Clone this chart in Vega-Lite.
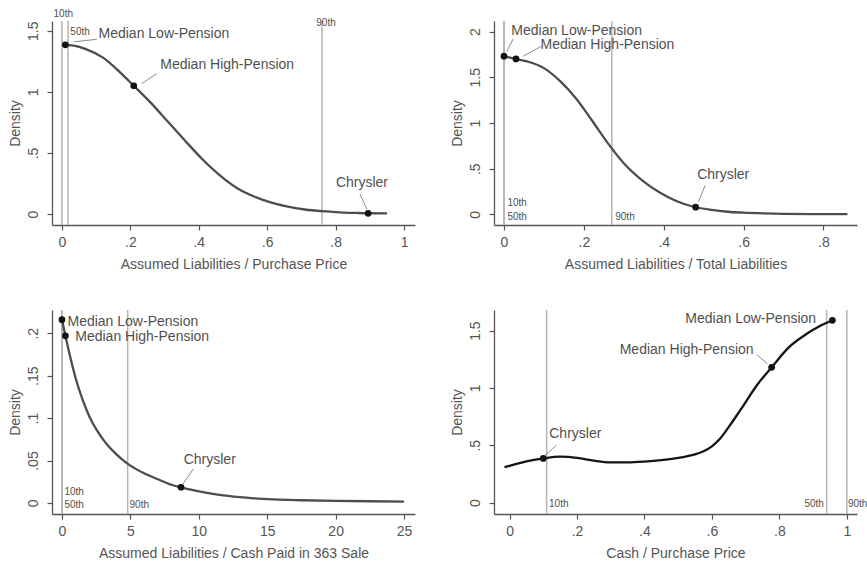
{
  "$schema": "https://vega.github.io/schema/vega-lite/v6.json",
  "background": "white",
  "padding": {"left": 8, "top": 8, "right": 0, "bottom": 0},
  "columns": 2,
  "spacing": {"row": 85, "column": 79},
  "bounds": "flush",
  "datasets": {
    "c1": [{"x":0,"y":1.385},{"x":0.03,"y":1.38},{"x":0.07,"y":1.35},{"x":0.12,"y":1.28},{"x":0.17,"y":1.16},{"x":0.21,"y":1.05},{"x":0.26,"y":0.91},{"x":0.31,"y":0.755},{"x":0.36,"y":0.6},{"x":0.41,"y":0.45},{"x":0.46,"y":0.32},{"x":0.51,"y":0.215},{"x":0.56,"y":0.145},{"x":0.61,"y":0.095},{"x":0.66,"y":0.06},{"x":0.71,"y":0.037},{"x":0.76,"y":0.023},{"x":0.81,"y":0.014},{"x":0.86,"y":0.009},{"x":0.9,"y":0.006},{"x":0.95,"y":0.005}],
    "m1": [{"x":0.01,"y":1.385},{"x":0.21,"y":1.05},{"x":0.895,"y":0.006}],
    "t1": [{"x":0.298,"y":1.47,"label":"Median Low-Pension"},{"x":0.483,"y":1.22,"label":"Median High-Pension"},{"x":0.877,"y":0.254,"label":"Chrysler"}],
    "a1": [{"x":0.102,"y":1.43,"x2":0.035,"y2":1.41},{"x":0.277,"y":1.15,"x2":0.233,"y2":1.066},{"x":0.871,"y":0.164,"x2":0.891,"y2":0.04}],
    "r1": [{"x":0,"pct":"10th"},{"x":0.018,"pct":"50th"},{"x":0.76,"pct":"90th"}],
    "p1": [{"x":0.004,"y":1.64,"label":"10th"},{"x":0.053,"y":1.49,"label":"50th"},{"x":0.772,"y":1.566,"label":"90th"}],

    "c2": [{"x":0,"y":1.73},{"x":0.03,"y":1.70},{"x":0.06,"y":1.67},{"x":0.1,"y":1.6},{"x":0.14,"y":1.46},{"x":0.18,"y":1.27},{"x":0.22,"y":1.03},{"x":0.26,"y":0.78},{"x":0.3,"y":0.56},{"x":0.35,"y":0.36},{"x":0.39,"y":0.24},{"x":0.43,"y":0.15},{"x":0.47,"y":0.09},{"x":0.52,"y":0.05},{"x":0.56,"y":0.03},{"x":0.6,"y":0.02},{"x":0.65,"y":0.012},{"x":0.7,"y":0.007},{"x":0.78,"y":0.004},{"x":0.86,"y":0.003}],
    "m2": [{"x":0,"y":1.73},{"x":0.03,"y":1.70},{"x":0.48,"y":0.08}],
    "t2": [{"x":0.182,"y":2.01,"label":"Median Low-Pension"},{"x":0.259,"y":1.85,"label":"Median High-Pension"},{"x":0.549,"y":0.43,"label":"Chrysler"}],
    "a2": [{"x":0.023,"y":1.92,"x2":0.007,"y2":1.78},{"x":0.094,"y":1.84,"x2":0.048,"y2":1.73},{"x":0.504,"y":0.32,"x2":0.487,"y2":0.14}],
    "r2": [{"x":0,"pct":"10th"},{"x":0,"pct":"50th"},{"x":0.27,"pct":"90th"}],
    "p2": [{"x":0.033,"y":0.13,"label":"10th"},{"x":0.033,"y":-0.033,"label":"50th"},{"x":0.303,"y":-0.025,"label":"90th"}],

    "c3": [{"x":0,"y":0.216},{"x":0.25,"y":0.197},{"x":0.5,"y":0.179},{"x":1,"y":0.147},{"x":1.5,"y":0.122},{"x":2,"y":0.102},{"x":2.5,"y":0.087},{"x":3,"y":0.075},{"x":3.5,"y":0.065},{"x":4,"y":0.057},{"x":4.5,"y":0.05},{"x":5,"y":0.044},{"x":6,"y":0.035},{"x":7,"y":0.028},{"x":8,"y":0.0215},{"x":8.7,"y":0.0185},{"x":9.5,"y":0.0155},{"x":10.5,"y":0.0122},{"x":11.5,"y":0.0095},{"x":13,"y":0.0068},{"x":14,"y":0.0055},{"x":15,"y":0.0045},{"x":17.5,"y":0.0032},{"x":20,"y":0.0025},{"x":22.5,"y":0.002},{"x":25,"y":0.0017}],
    "m3": [{"x":0,"y":0.216},{"x":0.25,"y":0.197},{"x":8.7,"y":0.0185}],
    "t3": [{"x":5.18,"y":0.2133,"label":"Median Low-Pension"},{"x":5.86,"y":0.1957,"label":"Median High-Pension"},{"x":10.8,"y":0.0506,"label":"Chrysler"}],
    "a3": [{"x":9.6,"y":0.04,"x2":8.75,"y2":0.0204}],
    "r3": [{"x":0,"pct":"10th"},{"x":0,"pct":"50th"},{"x":4.8,"pct":"90th"}],
    "p3": [{"x":0.89,"y":0.0133,"label":"10th"},{"x":0.89,"y":-0.002,"label":"50th"},{"x":5.65,"y":-0.002,"label":"90th"}],

    "c4": [{"x":-0.015,"y":0.31},{"x":0,"y":0.32},{"x":0.05,"y":0.36},{"x":0.1,"y":0.385},{"x":0.15,"y":0.4},{"x":0.2,"y":0.39},{"x":0.25,"y":0.365},{"x":0.3,"y":0.35},{"x":0.35,"y":0.35},{"x":0.4,"y":0.357},{"x":0.45,"y":0.37},{"x":0.5,"y":0.39},{"x":0.525,"y":0.403},{"x":0.55,"y":0.42},{"x":0.575,"y":0.447},{"x":0.6,"y":0.49},{"x":0.625,"y":0.56},{"x":0.65,"y":0.66},{"x":0.685,"y":0.81},{"x":0.735,"y":1.03},{"x":0.777,"y":1.18},{"x":0.83,"y":1.36},{"x":0.88,"y":1.47},{"x":0.92,"y":1.54},{"x":0.957,"y":1.59}],
    "m4": [{"x":0.1,"y":0.385},{"x":0.777,"y":1.18},{"x":0.957,"y":1.59}],
    "t4": [{"x":0.715,"y":1.6,"label":"Median Low-Pension"},{"x":0.525,"y":1.33,"label":"Median High-Pension"},{"x":0.195,"y":0.6,"label":"Chrysler"}],
    "a4": [{"x":0.733,"y":1.29,"x2":0.765,"y2":1.21},{"x":0.139,"y":0.5,"x2":0.105,"y2":0.41}],
    "r4": [{"x":0.11,"pct":"10th"},{"x":0.94,"pct":"50th"},{"x":1.0,"pct":"90th"}],
    "p4": [{"x":0.146,"y":-0.012,"label":"10th"},{"x":0.903,"y":-0.012,"label":"50th"},{"x":1.032,"y":-0.012,"label":"90th"}]
  },
  "concat": [
    {
      "width": 363, "height": 204,
      "layer": [
        {"data": {"name": "r1"}, "mark": {"type": "rule", "color": "#b4b4b4", "strokeWidth": 1.5}, "encoding": {"x": {"field": "x", "type": "quantitative"}}},
        {"data": {"name": "c1"}, "mark": {"type": "line", "color": "#4d4d4d", "strokeWidth": 2.3, "interpolate": "monotone"},
         "encoding": {
           "x": {"field": "x", "type": "quantitative", "scale": {"domain": [-0.029, 1.032], "nice": false, "zero": false}, "axis": {"values": [0, 0.2, 0.4, 0.6, 0.8, 1], "title": "Assumed Liabilities / Purchase Price", "labelExpr": "datum.value == 0 ? '0' : (abs(datum.value) < 1 ? substring(format(datum.value, ''), 1) : format(datum.value, ''))"}},
           "y": {"field": "y", "type": "quantitative", "scale": {"domain": [-0.09, 1.58], "nice": false, "zero": false}, "axis": {"values": [0, 0.5, 1, 1.5], "title": "Density", "labelExpr": "datum.value == 0 ? '0' : (abs(datum.value) < 1 ? substring(format(datum.value, ''), 1) : format(datum.value, ''))"}}
         }},
        {"data": {"name": "a1"}, "mark": {"type": "rule", "color": "#8c8c8c", "strokeWidth": 1}, "encoding": {"x": {"field": "x", "type": "quantitative"}, "y": {"field": "y", "type": "quantitative"}, "x2": {"field": "x2"}, "y2": {"field": "y2"}}},
        {"data": {"name": "m1"}, "mark": {"type": "point", "filled": true, "color": "#111", "size": 45, "opacity": 1}, "encoding": {"x": {"field": "x", "type": "quantitative"}, "y": {"field": "y", "type": "quantitative"}}},
        {"data": {"name": "t1"}, "mark": {"type": "text", "fontSize": 14, "color": "#505050", "font": "Liberation Sans"}, "encoding": {"x": {"field": "x", "type": "quantitative"}, "y": {"field": "y", "type": "quantitative"}, "text": {"field": "label"}}},
        {"data": {"name": "p1"}, "mark": {"type": "text", "fontSize": 10, "color": "#505050", "font": "Liberation Sans"}, "encoding": {"x": {"field": "x", "type": "quantitative"}, "y": {"field": "y", "type": "quantitative"}, "text": {"field": "label"}}}
      ]
    },
    {
      "width": 363, "height": 204,
      "layer": [
        {"data": {"name": "r2"}, "mark": {"type": "rule", "color": "#b4b4b4", "strokeWidth": 1.5}, "encoding": {"x": {"field": "x", "type": "quantitative"}}},
        {"data": {"name": "c2"}, "mark": {"type": "line", "color": "#4d4d4d", "strokeWidth": 2.3, "interpolate": "monotone"},
         "encoding": {
           "x": {"field": "x", "type": "quantitative", "scale": {"domain": [-0.025, 0.884], "nice": false, "zero": false}, "axis": {"values": [0, 0.2, 0.4, 0.6, 0.8], "title": "Assumed Liabilities / Total Liabilities", "labelExpr": "datum.value == 0 ? '0' : (abs(datum.value) < 1 ? substring(format(datum.value, ''), 1) : format(datum.value, ''))"}},
           "y": {"field": "y", "type": "quantitative", "scale": {"domain": [-0.115, 2.115], "nice": false, "zero": false}, "axis": {"values": [0, 0.5, 1, 1.5, 2], "title": "Density", "labelExpr": "datum.value == 0 ? '0' : (abs(datum.value) < 1 ? substring(format(datum.value, ''), 1) : format(datum.value, ''))"}}
         }},
        {"data": {"name": "a2"}, "mark": {"type": "rule", "color": "#8c8c8c", "strokeWidth": 1}, "encoding": {"x": {"field": "x", "type": "quantitative"}, "y": {"field": "y", "type": "quantitative"}, "x2": {"field": "x2"}, "y2": {"field": "y2"}}},
        {"data": {"name": "m2"}, "mark": {"type": "point", "filled": true, "color": "#111", "size": 45, "opacity": 1}, "encoding": {"x": {"field": "x", "type": "quantitative"}, "y": {"field": "y", "type": "quantitative"}}},
        {"data": {"name": "t2"}, "mark": {"type": "text", "fontSize": 14, "color": "#505050", "font": "Liberation Sans"}, "encoding": {"x": {"field": "x", "type": "quantitative"}, "y": {"field": "y", "type": "quantitative"}, "text": {"field": "label"}}},
        {"data": {"name": "p2"}, "mark": {"type": "text", "fontSize": 10, "color": "#505050", "font": "Liberation Sans"}, "encoding": {"x": {"field": "x", "type": "quantitative"}, "y": {"field": "y", "type": "quantitative"}, "text": {"field": "label"}}}
      ]
    },
    {
      "width": 363, "height": 204,
      "layer": [
        {"data": {"name": "r3"}, "mark": {"type": "rule", "color": "#b4b4b4", "strokeWidth": 1.5}, "encoding": {"x": {"field": "x", "type": "quantitative"}}},
        {"data": {"name": "c3"}, "mark": {"type": "line", "color": "#4d4d4d", "strokeWidth": 2.3, "interpolate": "monotone"},
         "encoding": {
           "x": {"field": "x", "type": "quantitative", "scale": {"domain": [-0.73, 25.8], "nice": false, "zero": false}, "axis": {"values": [0, 5, 10, 15, 20, 25], "title": "Assumed Liabilities / Cash Paid in 363 Sale", "labelExpr": "datum.value == 0 ? '0' : (abs(datum.value) < 1 ? substring(format(datum.value, ''), 1) : format(datum.value, ''))"}},
           "y": {"field": "y", "type": "quantitative", "scale": {"domain": [-0.013, 0.2274], "nice": false, "zero": false}, "axis": {"values": [0, 0.05, 0.1, 0.15, 0.2], "title": "Density", "labelExpr": "datum.value == 0 ? '0' : (abs(datum.value) < 1 ? substring(format(datum.value, ''), 1) : format(datum.value, ''))"}}
         }},
        {"data": {"name": "a3"}, "mark": {"type": "rule", "color": "#8c8c8c", "strokeWidth": 1}, "encoding": {"x": {"field": "x", "type": "quantitative"}, "y": {"field": "y", "type": "quantitative"}, "x2": {"field": "x2"}, "y2": {"field": "y2"}}},
        {"data": {"name": "m3"}, "mark": {"type": "point", "filled": true, "color": "#111", "size": 45, "opacity": 1}, "encoding": {"x": {"field": "x", "type": "quantitative"}, "y": {"field": "y", "type": "quantitative"}}},
        {"data": {"name": "t3"}, "mark": {"type": "text", "fontSize": 14, "color": "#505050", "font": "Liberation Sans"}, "encoding": {"x": {"field": "x", "type": "quantitative"}, "y": {"field": "y", "type": "quantitative"}, "text": {"field": "label"}}},
        {"data": {"name": "p3"}, "mark": {"type": "text", "fontSize": 10, "color": "#505050", "font": "Liberation Sans"}, "encoding": {"x": {"field": "x", "type": "quantitative"}, "y": {"field": "y", "type": "quantitative"}, "text": {"field": "label"}}}
      ]
    },
    {
      "width": 363, "height": 204,
      "layer": [
        {"data": {"name": "r4"}, "mark": {"type": "rule", "color": "#b4b4b4", "strokeWidth": 1.5}, "encoding": {"x": {"field": "x", "type": "quantitative"}}},
        {"data": {"name": "c4"}, "mark": {"type": "line", "color": "#151515", "strokeWidth": 2.3, "interpolate": "monotone"},
         "encoding": {
           "x": {"field": "x", "type": "quantitative", "scale": {"domain": [-0.046, 1.03], "nice": false, "zero": false}, "axis": {"values": [0, 0.2, 0.4, 0.6, 0.8, 1], "title": "Cash / Purchase Price", "labelExpr": "datum.value == 0 ? '0' : (abs(datum.value) < 1 ? substring(format(datum.value, ''), 1) : format(datum.value, ''))"}},
           "y": {"field": "y", "type": "quantitative", "scale": {"domain": [-0.1, 1.68], "nice": false, "zero": false}, "axis": {"values": [0, 0.5, 1, 1.5], "title": "Density", "labelExpr": "datum.value == 0 ? '0' : (abs(datum.value) < 1 ? substring(format(datum.value, ''), 1) : format(datum.value, ''))"}}
         }},
        {"data": {"name": "a4"}, "mark": {"type": "rule", "color": "#8c8c8c", "strokeWidth": 1}, "encoding": {"x": {"field": "x", "type": "quantitative"}, "y": {"field": "y", "type": "quantitative"}, "x2": {"field": "x2"}, "y2": {"field": "y2"}}},
        {"data": {"name": "m4"}, "mark": {"type": "point", "filled": true, "color": "#111", "size": 45, "opacity": 1}, "encoding": {"x": {"field": "x", "type": "quantitative"}, "y": {"field": "y", "type": "quantitative"}}},
        {"data": {"name": "t4"}, "mark": {"type": "text", "fontSize": 14, "color": "#505050", "font": "Liberation Sans"}, "encoding": {"x": {"field": "x", "type": "quantitative"}, "y": {"field": "y", "type": "quantitative"}, "text": {"field": "label"}}},
        {"data": {"name": "p4"}, "mark": {"type": "text", "fontSize": 10, "color": "#505050", "font": "Liberation Sans"}, "encoding": {"x": {"field": "x", "type": "quantitative"}, "y": {"field": "y", "type": "quantitative"}, "text": {"field": "label"}}}
      ]
    }
  ],
  "config": {
    "view": {"stroke": null},
    "font": "Liberation Sans",
    "axis": {"grid": false, "domainColor": "#555", "tickColor": "#555", "domainWidth": 1.3, "tickWidth": 1.2, "tickSize": 5, "labelColor": "#555", "titleColor": "#555", "labelFont": "Liberation Sans", "titleFont": "Liberation Sans", "labelFontSize": 14, "titleFontSize": 14, "titleFontWeight": "normal", "labelPadding": 5, "titlePadding": 8},
    "axisY": {"labelAngle": 270, "labelPadding": 7, "titlePadding": 4}
  }
}
